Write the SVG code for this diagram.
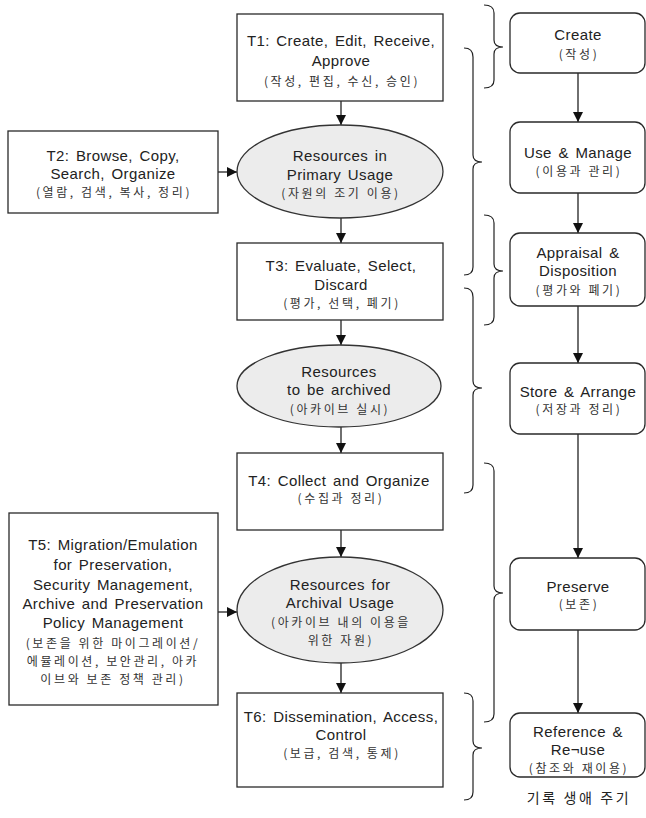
<svg xmlns="http://www.w3.org/2000/svg" width="646" height="818" viewBox="0 0 646 818">
<style>
.box{fill:#fff;stroke:#2a2a2a;stroke-width:1.3}
.ell{fill:#ececec;stroke:#333;stroke-width:1.3}
.rbox{fill:#fff;stroke:#2a2a2a;stroke-width:1.3}
.t{font-family:"Liberation Sans","Noto Sans CJK KR",sans-serif;font-size:15px;fill:#222;text-anchor:middle;letter-spacing:0.4px;word-spacing:2px}
.k{font-family:"Noto Sans CJK KR","Noto Sans CJK SC",sans-serif;font-size:12px;fill:#333;text-anchor:middle;letter-spacing:2.6px}
.c{fill:none;stroke:#222;stroke-width:1.3}
.br{fill:none;stroke:#222;stroke-width:1.2}
</style>
<defs>
<marker id="ah" viewBox="0 0 10 10" refX="10" refY="5" markerWidth="10" markerHeight="11" markerUnits="userSpaceOnUse" orient="auto">
<path d="M0,0 L10,5 L0,10 z" fill="#111"/>
</marker>
</defs>
<rect width="646" height="818" fill="#fff"/>

<g id="connectors">
<line class="c" x1="341" y1="101" x2="341" y2="125" marker-end="url(#ah)"/>
<line class="c" x1="341" y1="218" x2="341" y2="243" marker-end="url(#ah)"/>
<line class="c" x1="341" y1="320" x2="341" y2="345" marker-end="url(#ah)"/>
<line class="c" x1="341" y1="427" x2="341" y2="453" marker-end="url(#ah)"/>
<line class="c" x1="341" y1="530" x2="341" y2="557" marker-end="url(#ah)"/>
<line class="c" x1="341" y1="663" x2="341" y2="693" marker-end="url(#ah)"/>
<line class="c" x1="218" y1="172" x2="237" y2="172" marker-end="url(#ah)"/>
<line class="c" x1="218" y1="612" x2="237" y2="612" marker-end="url(#ah)"/>
<line class="c" x1="578" y1="73" x2="578" y2="122" marker-end="url(#ah)"/>
<line class="c" x1="578" y1="193" x2="578" y2="233" marker-end="url(#ah)"/>
<line class="c" x1="578" y1="306" x2="578" y2="363" marker-end="url(#ah)"/>
<line class="c" x1="578" y1="434" x2="578" y2="558" marker-end="url(#ah)"/>
<line class="c" x1="578" y1="630" x2="578" y2="713" marker-end="url(#ah)"/>
</g>

<g id="braces">
<path class="br" d="M484,5 Q494,5 494,13 L494,40 Q494,47 503,47 Q494,47 494,54 L494,80 Q494,88 484,88"/>
<path class="br" d="M464,48 Q473,48 473,57 L473,155 Q473,162 482,162 Q473,162 473,169 L473,267 Q473,275 464,275"/>
<path class="br" d="M484,215 Q494,215 494,223 L494,264 Q494,271 503,271 Q494,271 494,278 L494,317 Q494,325 484,325"/>
<path class="br" d="M464,288 Q473,288 473,297 L473,381 Q473,388 482,388 Q473,388 473,395 L473,485 Q473,493 464,493"/>
<path class="br" d="M484,463 Q494,463 494,471 L494,586 Q494,593 503,593 Q494,593 494,600 L494,714 Q494,722 484,722"/>
<path class="br" d="M464,693 Q473,693 473,701 L473,741 Q473,748 482,748 Q473,748 473,755 L473,792 Q473,800 464,800"/>
</g>

<g id="T1">
<rect class="box" x="237" y="14" width="206" height="87"/>
<text class="t" x="341" y="46">T1: Create, Edit, Receive,</text>
<text class="t" x="341" y="66">Approve</text>
<text class="k" x="342" y="86">(작성, 편집, 수신, 승인)</text>
</g>

<g id="T2">
<rect class="box" x="8" y="131" width="210" height="82"/>
<text class="t" x="113" y="161">T2: Browse, Copy,</text>
<text class="t" x="113" y="179">Search, Organize</text>
<text class="k" x="114" y="197">(열람, 검색, 복사, 정리)</text>
</g>

<g id="E1">
<ellipse class="ell" cx="340" cy="171.5" rx="103" ry="46.5"/>
<text class="t" x="340" y="161">Resources in</text>
<text class="t" x="340" y="180">Primary Usage</text>
<text class="k" x="341" y="198">(자원의 조기 이용)</text>
</g>

<g id="T3">
<rect class="box" x="237" y="243" width="206" height="77"/>
<text class="t" x="341" y="271">T3: Evaluate, Select,</text>
<text class="t" x="341" y="290">Discard</text>
<text class="k" x="342" y="308">(평가, 선택, 폐기)</text>
</g>

<g id="E2">
<ellipse class="ell" cx="339" cy="386" rx="102" ry="41"/>
<text class="t" x="339" y="377">Resources</text>
<text class="t" x="339" y="395">to be archived</text>
<text class="k" x="340" y="414">(아카이브 실시)</text>
</g>

<g id="T4">
<rect class="box" x="237" y="453" width="206" height="77"/>
<text class="t" x="339" y="486">T4: Collect and Organize</text>
<text class="k" x="341" y="503">(수집과 정리)</text>
</g>

<g id="T5">
<rect class="box" x="9" y="513" width="209" height="192"/>
<text class="t" x="113" y="550">T5: Migration/Emulation</text>
<text class="t" x="113" y="570">for Preservation,</text>
<text class="t" x="113" y="590">Security Management,</text>
<text class="t" x="113" y="609">Archive and Preservation</text>
<text class="t" x="113" y="628">Policy Management</text>
<text class="k" x="113" y="648">(보존을 위한 마이그레이션/</text>
<text class="k" x="113" y="666">에뮬레이션, 보안관리, 아카</text>
<text class="k" x="113" y="684">이브와 보존 정책 관리)</text>
</g>

<g id="E3">
<ellipse class="ell" cx="340" cy="610" rx="103" ry="53"/>
<text class="t" x="340" y="590">Resources for</text>
<text class="t" x="340" y="608">Archival Usage</text>
<text class="k" x="341" y="627">(아카이브 내의 이용을</text>
<text class="k" x="341" y="645">위한 자원)</text>
</g>

<g id="T6">
<rect class="box" x="237" y="693" width="206" height="94"/>
<text class="t" x="341" y="722">T6: Dissemination, Access,</text>
<text class="t" x="341" y="740">Control</text>
<text class="k" x="342" y="758">(보급, 검색, 통제)</text>
</g>

<g id="Create">
<rect class="rbox" x="510" y="13" width="135" height="60" rx="10"/>
<text class="t" x="578" y="40">Create</text>
<text class="k" x="579" y="59">(작성)</text>
</g>

<g id="UseManage">
<rect class="rbox" x="510" y="122" width="135" height="71" rx="10"/>
<text class="t" x="578" y="158">Use &amp; Manage</text>
<text class="k" x="579" y="176">(이용과 관리)</text>
</g>

<g id="Appraisal">
<rect class="rbox" x="510" y="233" width="135" height="73" rx="10"/>
<text class="t" x="578" y="258">Appraisal &amp;</text>
<text class="t" x="578" y="276">Disposition</text>
<text class="k" x="579" y="295">(평가와 폐기)</text>
</g>

<g id="Store">
<rect class="rbox" x="510" y="363" width="135" height="71" rx="10"/>
<text class="t" x="578" y="397">Store &amp; Arrange</text>
<text class="k" x="579" y="414">(저장과 정리)</text>
</g>

<g id="Preserve">
<rect class="rbox" x="510" y="558" width="135" height="72" rx="10"/>
<text class="t" x="578" y="592">Preserve</text>
<text class="k" x="579" y="609">(보존)</text>
</g>

<g id="Reference">
<rect class="rbox" x="510" y="713" width="135" height="64" rx="10"/>
<text class="t" x="578" y="737">Reference &amp;</text>
<text class="t" x="578" y="755">Re¬use</text>
<text class="k" x="579" y="773">(참조와 재이용)</text>
</g>

<g id="caption">
<text class="k" x="579" y="803" style="font-size:14px;fill:#222">기록 생애 주기</text>
</g>
</svg>
